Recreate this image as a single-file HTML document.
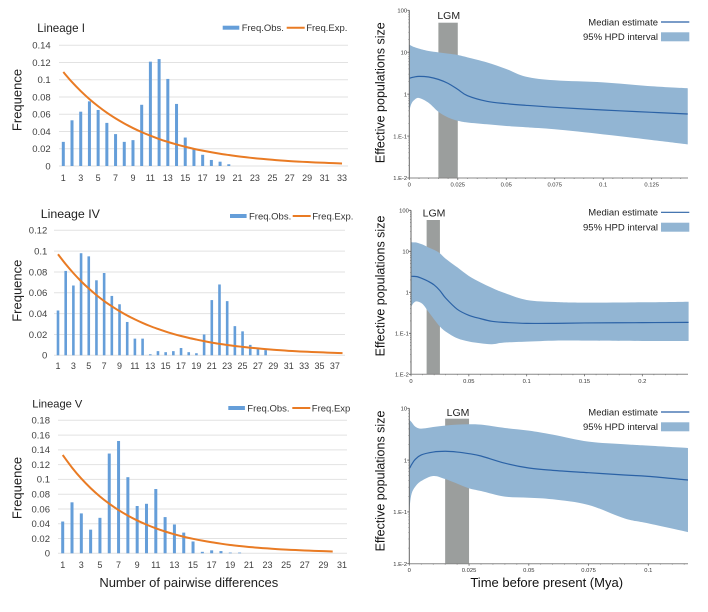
<!DOCTYPE html>
<html lang="en">
<head>
<meta charset="utf-8">
<title>Lineage mismatch distributions and skyline plots</title>
<style>
html,body{margin:0;padding:0;background:#fff;}
#figure{display:block;width:708px;height:612px;filter:blur(0.3px);}
text{font-family:"Liberation Sans",Arial,sans-serif;}
</style>
</head>
<body>
<svg id="figure" xmlns="http://www.w3.org/2000/svg" width="708" height="612" viewBox="0 0 708 612"></svg>
<script>
// ---------- Mismatch distribution data ----------
const lineage1Obs = [0.028,0.053,0.063,0.075,0.065,0.05,0.037,0.028,0.03,0.071,0.121,0.124,0.101,0.072,0.033,0.02,0.013,0.007,0.005,0.002,0,0,0,0,0,0,0,0,0,0,0,0,0];
const lineage1Exp = [0.109,0.0973,0.0869,0.0776,0.0693,0.0618,0.0552,0.0493,0.044,0.0393,0.0351,0.0313,0.028,0.025,0.0223,0.0199,0.0178,0.0159,0.0142,0.0127,0.0113,0.0101,0.009,0.0081,0.0072,0.0064,0.0057,0.0051,0.0046,0.0041,0.0037,0.0033,0.0029];
const lineage1YTicks = ["0","0.02","0.04","0.06","0.08","0.1","0.12","0.14"];

const lineage4Obs = [0.043,0.081,0.067,0.098,0.095,0.072,0.079,0.057,0.049,0.032,0.016,0.016,0.001,0.004,0.003,0.004,0.007,0.003,0.002,0.02,0.053,0.068,0.052,0.028,0.023,0.01,0.006,0.005,0,0,0,0,0,0,0,0,0,0];
const lineage4Exp = [0.097,0.0875,0.0789,0.0711,0.0641,0.0578,0.0521,0.047,0.0424,0.0382,0.0345,0.0311,0.028,0.0253,0.0228,0.0205,0.0185,0.0167,0.0151,0.0136,0.0122,0.011,0.0099,0.0089,0.0081,0.0073,0.0066,0.0059,0.0053,0.0048,0.0043,0.0039,0.0035,0.0032,0.0029,0.0026,0.0023,0.0021];
const lineage4YTicks = ["0","0.02","0.04","0.06","0.08","0.1","0.12"];

const lineage5Obs = [0.043,0.069,0.054,0.032,0.048,0.135,0.152,0.103,0.064,0.067,0.087,0.049,0.039,0.028,0.016,0.002,0.004,0.003,0.001,0.001,0,0,0,0,0,0,0,0,0,0,0];
const lineage5Exp = [0.133,0.116,0.1011,0.0882,0.0769,0.0671,0.0585,0.051,0.0445,0.0388,0.0338,0.0295,0.0257,0.0224,0.0196,0.0171,0.0149,0.013,0.0113,0.0099,0.0086,0.0075,0.0066,0.0057,0.005,0.0044,0.0038,0.0033,0.0029,0.0025];
const lineage5YTicks = ["0","0.02","0.04","0.06","0.08","0.1","0.12","0.14","0.16","0.18"];

// ---------- Skyline plot data ----------
const sky1Time = [0,0.001,0.0025,0.005,0.01,0.015,0.02,0.025,0.03,0.04,0.05,0.06,0.075,0.1,0.125,0.1436];
const sky1Upper = [15.2,14.3,13.3,12.2,10.7,9.95,9.25,8.6,7.56,5.74,3.98,2.62,2.14,1.91,1.54,1.38];
const sky1Median = [2.38,2.47,2.56,2.65,2.56,2.25,1.81,1.3,0.92,0.675,0.593,0.542,0.485,0.419,0.369,0.336];
const sky1Lower = [0.4,0.58,0.72,0.81,0.62,0.38,0.278,0.232,0.211,0.191,0.174,0.162,0.145,0.11,0.0807,0.0635];
const sky1XTicks = ["0","0.025","0.05","0.075","0.1","0.125"];
const sky1YTicks = ["1.E-2","1.E-1","1","10","100"];

const sky4Time = [0,0.002,0.005,0.01,0.015,0.02,0.025,0.03,0.04,0.05,0.06,0.07,0.08,0.1,0.125,0.15,0.2,0.24];
const sky4Upper = [16.9,16.5,16.3,14.6,12.5,10.8,8.9,6.6,4.07,2.5,1.75,1.28,0.98,0.65,0.58,0.56,0.57,0.59];
const sky4Median = [2.45,2.45,2.41,2.15,1.85,1.51,1.1,0.72,0.385,0.275,0.228,0.196,0.185,0.175,0.175,0.179,0.182,0.185];
const sky4Lower = [0.43,0.54,0.6,0.519,0.337,0.219,0.146,0.11,0.0755,0.063,0.057,0.054,0.0592,0.0626,0.0662,0.0662,0.065,0.065];
const sky4XTicks = ["0","0.05","0.1","0.15","0.2"];
const sky4YTicks = ["1.E-2","1.E-1","1","10","100"];

const sky5Time = [0,0.0003,0.001,0.0025,0.005,0.01,0.015,0.02,0.025,0.03,0.04,0.05,0.06,0.075,0.09,0.1,0.1166];
const sky5Upper = [5.95,5.8,5.37,4.43,4.05,4.35,4.63,4.83,4.91,4.83,4.17,3.7,3.1,2.27,2.02,1.9,1.71];
const sky5Median = [0.693,0.72,0.828,1.035,1.26,1.43,1.48,1.43,1.33,1.2,0.87,0.703,0.634,0.571,0.515,0.485,0.413];
const sky5Lower = [0.087,0.146,0.228,0.307,0.394,0.493,0.431,0.351,0.285,0.253,0.197,0.188,0.175,0.136,0.075,0.06,0.0408];
const sky5XTicks = ["0","0.025","0.05","0.075","0.1"];
const sky5YTicks = ["1.E-2","1.E-1","1","10"];

// ---------- Helpers ----------
const svg = document.getElementById('figure');
const NS = 'http://www.w3.org/2000/svg';
function make(tag, attrs, parent) {
  const el = document.createElementNS(NS, tag);
  for (const k in attrs) el.setAttribute(k, attrs[k]);
  (parent || svg).appendChild(el);
  return el;
}
function label(parent, str, x, y, size, anchor, fill, rot) {
  const attrs = {x: x, y: y, 'font-size': size, 'text-anchor': anchor || 'start', fill: fill || '#333'};
  if (rot) attrs.transform = 'rotate(' + rot + ' ' + x + ' ' + y + ')';
  const el = make('text', attrs, parent);
  el.textContent = str;
  return el;
}
function spline(pts) {
  let d = '';
  for (let i = 0; i < pts.length - 1; i++) {
    const p0 = pts[Math.max(i - 1, 0)], p1 = pts[i], p2 = pts[i + 1], p3 = pts[Math.min(i + 2, pts.length - 1)];
    const c1x = p1[0] + (p2[0] - p0[0]) / 6, c1y = p1[1] + (p2[1] - p0[1]) / 6;
    const c2x = p2[0] - (p3[0] - p1[0]) / 6, c2y = p2[1] - (p3[1] - p1[1]) / 6;
    d += 'C' + c1x.toFixed(2) + ' ' + c1y.toFixed(2) + ' ' + c2x.toFixed(2) + ' ' + c2y.toFixed(2) + ' ' + p2[0].toFixed(2) + ' ' + p2[1].toFixed(2);
  }
  return d;
}

// ---------- Mismatch chart ----------
function drawMismatch(c) {
  const g = make('g', {});
  
  
  const n = Math.max(c.obs.length, c.exp.length);
  const xScale = i => c.x1 + i * c.step;
  const yMax = parseFloat(c.yTicks[c.yTicks.length - 1]);
  const yScale = v => c.y0 + (c.yTop - c.y0) * v / yMax;

  c.yTicks.forEach(t => {
    const y = yScale(parseFloat(t));
    const grid = make('line', {x1: c.gridL, x2: c.gridR, y1: y, y2: y, stroke: '#e2e2e2', 'stroke-width': 1}, g);
    
    
    const tl = label(g, t, c.tickR, y + 3.3, 9.5, 'end', '#404040');
    
    
  });

  for (let i = 0; i < n; i += 2) {
    const tl = label(g, String(i + 1), xScale(i), c.xLabelY, 9, 'middle', '#404040');
    
    
  }

  c.obs.forEach((v, i) => {
    if (v <= 0) return;
    const y = yScale(v);
    const bar = make('rect', {x: xScale(i) - c.barW / 2, y: y, width: c.barW, height: c.y0 - y, fill: '#659ed9'}, g);
    
    
  });

  const pts = c.exp.map((v, i) => [xScale(i), yScale(v)]);
  const line = make('path', {d: 'M' + pts[0][0] + ' ' + pts[0][1] + spline(pts), fill: 'none', stroke: '#e97b24', 'stroke-width': 2}, g);
  
  

  const title = label(g, c.title, c.titleX, c.titleY, c.titleSize, 'start', '#222');
  
  

  const yTitle = label(g, 'Frequence', 21.5, c.yTitleY, 13, 'middle', '#222', -90);
  
  

  const s1 = make('rect', {x: c.legX, y: c.legY - 2, width: 16.6, height: 4, fill: '#659ed9'}, g);
  
  
  const t1 = label(g, 'Freq.Obs.', c.legX + 19, c.legY + 3.3, 9.5, 'start', '#333');
  
  
  const s2 = make('line', {x1: c.legX2, x2: c.legX2 + 18, y1: c.legY, y2: c.legY, stroke: '#e97b24', 'stroke-width': 2}, g);
  
  
  const t2 = label(g, c.expLabel, c.legX2 + 19.5, c.legY + 3.3, 9.5, 'start', '#333');
  
  
}

// ---------- Skyline chart ----------
function drawSkyline(c) {
  const g = make('g', {});
  
  
  const xScale = t => c.x0 + t * c.xPerUnit;
  const decades = c.yTicks.length - 1;
  const yScale = v => c.yBottom - (Math.log10(v) + 2) / decades * (c.yBottom - c.yTop);

  const band = make('rect', {x: xScale(c.bandFrom), y: c.bandTop, width: xScale(c.bandTo) - xScale(c.bandFrom), height: c.yBottom - c.bandTop, fill: '#9b9e9d'}, g);
  
  

  const up = c.time.map((t, i) => [xScale(t), yScale(c.upper[i])]);
  const lo = c.time.map((t, i) => [xScale(t), yScale(c.lower[i])]).reverse();
  const area = make('path', {d: 'M' + up[0][0] + ' ' + up[0][1] + spline(up) + 'L' + lo[0][0] + ' ' + lo[0][1] + spline(lo) + 'Z', fill: '#92b5d3'}, g);
  
  

  const med = c.time.map((t, i) => [xScale(t), yScale(c.median[i])]);
  const medLine = make('path', {d: 'M' + med[0][0] + ' ' + med[0][1] + spline(med), fill: 'none', stroke: '#2b62a6', 'stroke-width': 1.2}, g);
  
  

  const yAxis = make('line', {x1: c.x0, x2: c.x0, y1: c.yTop, y2: c.yBottom, stroke: '#666', 'stroke-width': 1}, g);
  
  
  const xAxis = make('line', {x1: c.x0, x2: c.xEnd, y1: c.yBottom, y2: c.yBottom, stroke: '#888', 'stroke-width': 1}, g);
  
  

  c.yTicks.forEach((t, i) => {
    const y = c.yBottom - i / decades * (c.yBottom - c.yTop);
    const tick = make('line', {x1: c.x0 - 2, x2: c.x0, y1: y, y2: y, stroke: '#555', 'stroke-width': 0.8}, g);
    
    
    const tl = label(g, t, c.x0 - 2.2, y + 2.2, 5.8, 'end', '#333');
    
    
    if (i < decades) {
      for (let m = 2; m < 10; m++) {
        const my = y - Math.log10(m) / decades * (c.yBottom - c.yTop);
        const minor = make('line', {x1: c.x0 - 1, x2: c.x0, y1: my, y2: my, stroke: '#777', 'stroke-width': 0.6}, g);
        
        
      }
    }
  });

  const major = parseFloat(c.xTicks[1]);
  for (let k = 0; xScale(k * major / 5) <= c.xEnd; k++) {
    if (k % 5 === 0) continue;
    const mx = xScale(k * major / 5);
    const minorX = make('line', {x1: mx, x2: mx, y1: c.yBottom, y2: c.yBottom + 1, stroke: '#777', 'stroke-width': 0.6}, g);
    
    
  }

  c.xTicks.forEach(t => {
    const x = xScale(parseFloat(t));
    const tick = make('line', {x1: x, x2: x, y1: c.yBottom, y2: c.yBottom + 2, stroke: '#666', 'stroke-width': 0.8}, g);
    
    
    const tl = label(g, t, x, c.yBottom + 8.5, 5.8, 'middle', '#333');
    
    
  });

  const lgm = label(g, 'LGM', c.lgmX, c.lgmY, 10.5, 'middle', '#222');
  
  

  const yTitle = label(g, 'Effective populations size', 384.5, c.yTitleY, 12.5, 'middle', '#111', -90);
  
  

  const t1 = label(g, 'Median estimate', 658, c.legY1 + 3.3, 9.5, 'end', '#222');
  
  
  const s1 = make('line', {x1: 661, x2: 689.3, y1: c.legY1, y2: c.legY1, stroke: '#2b62a6', 'stroke-width': 1.2}, g);
  
  
  const t2 = label(g, '95% HPD interval', 658, c.legY2 + 3.3, 9.5, 'end', '#222');
  
  
  const s2 = make('rect', {x: 661, y: c.legY2 - 4.5, width: 28.3, height: 9, fill: '#92b5d3'}, g);
  
  
}

// ---------- Panels ----------
drawMismatch({name:'lineage-i-mismatch-chart',title:'Lineage I',titleX:37.3,titleY:32,titleSize:11.6,obs:lineage1Obs,exp:lineage1Exp,yTicks:lineage1YTicks,x1:63.3,step:8.71,y0:166,yTop:45.3,gridL:59,gridR:348,tickR:50.7,xLabelY:181,barW:3,yTitleY:100,legX:222.7,legX2:286.7,legY:27.7,expLabel:'Freq.Exp.'});
drawMismatch({name:'lineage-iv-mismatch-chart',title:'Lineage IV',titleX:40.7,titleY:218,titleSize:12.4,obs:lineage4Obs,exp:lineage4Exp,yTicks:lineage4YTicks,x1:58,step:7.69,y0:355.3,yTop:230.3,gridL:54,gridR:345,tickR:47.3,xLabelY:369,barW:2.6,yTitleY:290.7,legX:230,legX2:292.7,legY:216,expLabel:'Freq.Exp.'});
drawMismatch({name:'lineage-v-mismatch-chart',title:'Lineage V',titleX:32.3,titleY:407.3,titleSize:11.1,obs:lineage5Obs,exp:lineage5Exp,yTicks:lineage5YTicks,x1:62.7,step:9.31,y0:553.3,yTop:420.3,gridL:58,gridR:347,tickR:50,xLabelY:568,barW:3,yTitleY:488,legX:228.3,legX2:292.3,legY:408,expLabel:'Freq.Exp'});

drawSkyline({name:'lineage-i-skyline-plot',time:sky1Time,upper:sky1Upper,median:sky1Median,lower:sky1Lower,xTicks:sky1XTicks,yTicks:sky1YTicks,x0:409.3,xPerUnit:1939,xEnd:688,yTop:10.3,yBottom:178,bandFrom:0.015,bandTo:0.025,bandTop:22.7,lgmX:448.7,lgmY:19,yTitleY:92.7,legY1:22,legY2:36.8});
drawSkyline({name:'lineage-iv-skyline-plot',time:sky4Time,upper:sky4Upper,median:sky4Median,lower:sky4Lower,xTicks:sky4XTicks,yTicks:sky4YTicks,x0:411,xPerUnit:1156.7,xEnd:688,yTop:210.3,yBottom:374.3,bandFrom:0.0135,bandTo:0.025,bandTop:220,lgmX:434,lgmY:216.5,yTitleY:286,legY1:212.3,legY2:227.2});
drawSkyline({name:'lineage-v-skyline-plot',time:sky5Time,upper:sky5Upper,median:sky5Median,lower:sky5Lower,xTicks:sky5XTicks,yTicks:sky5YTicks,x0:409.3,xPerUnit:2390,xEnd:688,yTop:408.3,yBottom:563.7,bandFrom:0.015,bandTo:0.025,bandTop:418.7,lgmX:458,lgmY:416,yTitleY:481,legY1:412,legY2:426.8});

// ---------- Shared axis titles ----------
const xTitleLeft = label(svg, 'Number of pairwise differences', 188.8, 587, 13, 'middle', '#222');


const xTitleRight = label(svg, 'Time before present (Mya)', 546.7, 587, 13, 'middle', '#111');


</script>
</body>
</html>
